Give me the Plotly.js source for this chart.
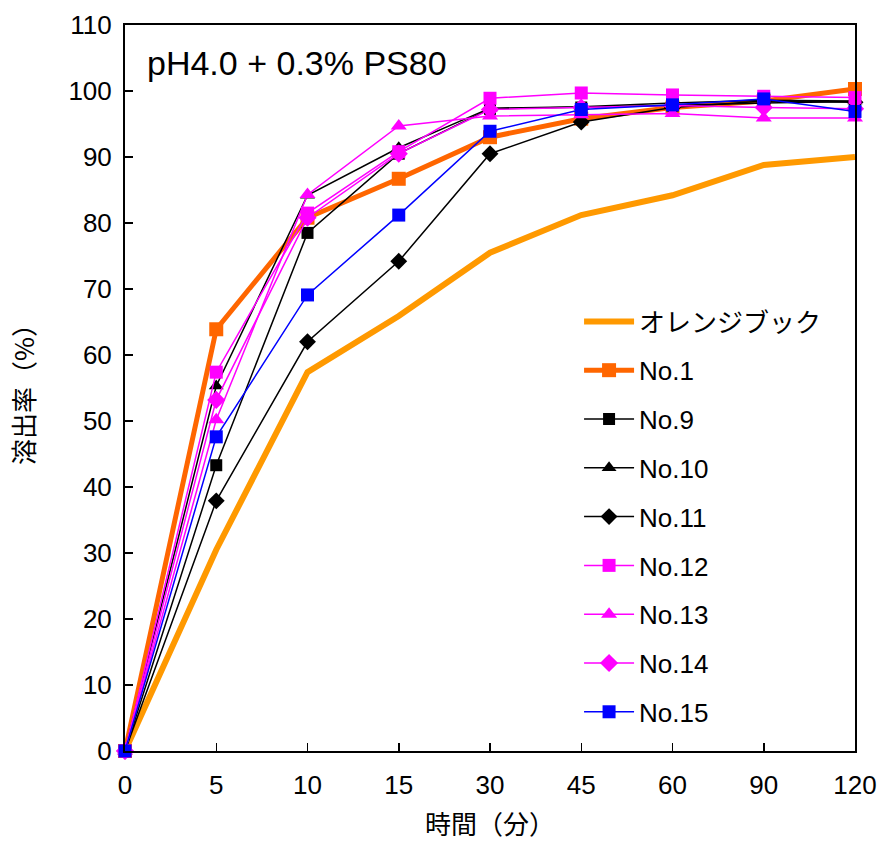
<!DOCTYPE html>
<html>
<head>
<meta charset="utf-8">
<script src="https://cdn.plot.ly/plotly-3.0.1.min.js"></script>
<style>html,body{margin:0;padding:0;background:#fff;}</style>
</head>
<body>
<div id="chart" style="width:883px;height:842px;"></div>
<script>
const times = ["0", "5", "10", "15", "30", "45", "60", "90", "120"];
const seriesNames = ["オレンジブック", "No.1", "No.9", "No.10", "No.11", "No.12", "No.13", "No.14", "No.15"];
const orangeBook = [0, 30.5, 57.4, 65.9, 75.5, 81.2, 84.2, 88.8, 90.0];
const no1  = [0, 63.9, 80.8, 86.7, 93.0, 95.8, 97.5, 98.5, 100.3];
const no9  = [0, 43.3, 78.5, 90.5, 97.3, 97.5, 97.8, 98.2, 98.4];
const no10 = [0, 55.3, 84.2, 91.4, 97.4, 97.6, 98.2, 98.6, 98.5];
const no11 = [0, 37.9, 62.0, 74.2, 90.5, 95.3, 97.5, 98.5, 98.3];
const no12 = [0, 57.4, 81.5, 90.8, 98.9, 99.7, 99.4, 99.2, 99.0];
const no13 = [0, 50.2, 84.3, 94.7, 96.2, 96.4, 96.6, 95.9, 95.9];
const no14 = [0, 53.2, 80.8, 90.5, 97.2, 97.5, 97.8, 97.5, 97.3];
const no15 = [0, 47.6, 69.1, 81.2, 93.9, 97.2, 97.9, 98.8, 96.9];

const values = [orangeBook, no1, no9, no10, no11, no12, no13, no14, no15];
const styles = [
  {color: "#FF9900", width: 6, symbol: null, size: 0},
  {color: "#FF6600", width: 5, symbol: "square", size: 14},
  {color: "#000000", width: 1.5, symbol: "square", size: 12},
  {color: "#000000", width: 1.5, symbol: "triangle-up", size: 13},
  {color: "#000000", width: 1.5, symbol: "diamond", size: 13},
  {color: "#FF00FF", width: 1.5, symbol: "square", size: 13},
  {color: "#FF00FF", width: 1.5, symbol: "triangle-up", size: 14},
  {color: "#FF00FF", width: 1.5, symbol: "diamond", size: 14},
  {color: "#0000FF", width: 1.5, symbol: "square", size: 13}
];

const traces = values.map((v, i) => {
  const s = styles[i];
  const t = {
    x: times, y: v, name: seriesNames[i], type: "scatter",
    legendgroup: "g" + i,
    mode: s.symbol ? "lines+markers" : "lines",
    line: {color: s.color, width: s.width},
    cliponaxis: false
  };
  if (s.symbol) t.marker = {symbol: s.symbol, size: s.size, color: s.color};
  return t;
});

const fontFam = "'Liberation Sans', Arial, 'Noto Sans CJK JP', sans-serif";
const cjkFam = "'Noto Sans CJK JP', sans-serif";
const layout = {
  width: 883, height: 842,
  margin: {l: 125, r: 28, t: 25, b: 91},
  paper_bgcolor: "#fff", plot_bgcolor: "#fff",
  font: {family: fontFam, color: "#000", size: 26},
  showlegend: true,
  legend: {
    x: 0.622, y: 0.624, xanchor: "left", yanchor: "top",
    font: {family: fontFam, size: 26, color: "#000"},
    bgcolor: "rgba(0,0,0,0)", tracegroupgap: 12, itemwidth: 50
  },
  xaxis: {
    type: "category", range: [0, 8],
    showline: true, linecolor: "#000", linewidth: 2, mirror: true,
    ticks: "inside", ticklen: 8, tickwidth: 1.5, tickcolor: "#000",
    showgrid: false, zeroline: false, ticklabelstandoff: 10,
    tickfont: {size: 26, family: fontFam},
    title: {text: "時間（分）", font: {size: 26, family: cjkFam}, standoff: 17}
  },
  yaxis: {
    range: [0, 110], dtick: 10,
    showline: true, linecolor: "#000", linewidth: 2, mirror: true,
    ticks: "inside", ticklen: 8, tickwidth: 1.5, tickcolor: "#000",
    showgrid: false, zeroline: false, ticklabelstandoff: 6,
    tickfont: {size: 26, family: fontFam},
    title: {text: "溶出率（%）", font: {size: 26, family: cjkFam}, standoff: 26}
  },
  annotations: [{
    text: "pH4.0 + 0.3% PS80", xref: "paper", yref: "paper",
    x: 0.027, y: 0.948, xanchor: "left", yanchor: "middle",
    showarrow: false, font: {size: 34, family: fontFam, color: "#000"}
  }]
};

Plotly.newPlot("chart", traces, layout, {displayModeBar: false, staticPlot: true});
</script>
</body>
</html>
